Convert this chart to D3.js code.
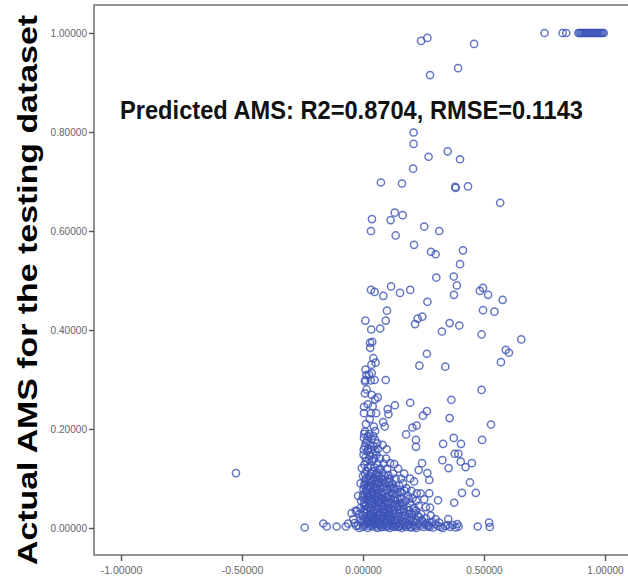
<!DOCTYPE html>
<html>
<head>
<meta charset="utf-8">
<script src="https://cdn.jsdelivr.net/npm/d3@7"></script>
<style>
  html, body { margin: 0; padding: 0; background: #ffffff; }
  #chart { width: 628px; height: 584px; }
  .tick-label { font-family: "Liberation Sans", Arial, sans-serif; font-size: 11px; fill: #666; }
  .axis-label { font-family: "Liberation Sans", Arial, sans-serif; font-weight: bold; font-size: 28px; fill: #000; }
  .fit-label { font-family: "Liberation Sans", Arial, sans-serif; font-weight: bold; font-size: 26px; fill: #111; }
</style>
</head>
<body>
<div id="chart"></div>
<script>
// [predicted, actual] pairs
const topRow = [
  [0.75, 1.0], [0.825, 1.0], [0.84, 1.0], [0.89, 1.0], [0.895, 1.0], [0.90, 1.0], [0.905, 1.0],
  [0.91, 1.0], [0.915, 1.0], [0.92, 1.0], [0.925, 1.0], [0.93, 1.0], [0.935, 1.0], [0.94, 1.0],
  [0.945, 1.0], [0.95, 1.0], [0.955, 1.0], [0.96, 1.0], [0.965, 1.0], [0.97, 1.0], [0.975, 1.0],
  [0.98, 1.0], [0.985, 1.0], [0.99, 1.0], [0.995, 1.0]
];

const upperPoints = [
  [0.24, 0.984], [0.266, 0.99], [0.459, 0.978], [0.277, 0.915], [0.393, 0.929],
  [0.209, 0.799], [0.209, 0.776], [0.271, 0.750], [0.350, 0.761], [0.401, 0.745],
  [0.207, 0.726], [0.074, 0.698], [0.161, 0.696], [0.383, 0.687], [0.381, 0.689],
  [0.434, 0.690], [0.567, 0.657], [0.131, 0.637], [0.164, 0.632], [0.114, 0.622],
  [0.037, 0.624], [0.033, 0.600], [0.253, 0.609], [0.315, 0.600], [0.135, 0.591],
  [0.211, 0.572], [0.281, 0.558], [0.300, 0.553], [0.413, 0.561], [0.401, 0.533],
  [0.303, 0.506], [0.375, 0.508], [0.388, 0.490], [0.376, 0.471]
];

const midPoints = [
  [0.033, 0.481], [0.048, 0.477], [0.084, 0.469], [0.116, 0.488], [0.153, 0.475],
  [0.195, 0.481], [0.266, 0.457], [0.483, 0.479], [0.496, 0.485], [0.517, 0.471],
  [0.577, 0.461], [0.099, 0.439], [0.010, 0.419], [0.034, 0.401], [0.071, 0.403],
  [0.094, 0.419], [0.215, 0.412], [0.226, 0.423], [0.245, 0.427], [0.326, 0.397],
  [0.358, 0.414], [0.398, 0.409], [0.496, 0.440], [0.543, 0.437], [0.490, 0.391],
  [0.654, 0.381], [0.590, 0.360], [0.603, 0.354], [0.570, 0.335], [0.029, 0.374],
  [0.038, 0.376], [0.030, 0.364], [0.043, 0.343], [0.052, 0.334], [0.264, 0.352],
  [0.233, 0.328], [0.340, 0.326], [0.014, 0.309], [0.036, 0.313], [0.010, 0.299],
  [0.032, 0.298], [0.048, 0.299], [0.094, 0.299], [0.490, 0.279], [0.008, 0.296],
  [0.365, 0.259], [0.195, 0.253], [0.132, 0.248], [0.102, 0.240], [0.061, 0.264],
  [0.036, 0.269], [0.008, 0.272], [0.529, 0.209], [0.358, 0.222], [0.264, 0.236],
  [0.248, 0.227], [0.222, 0.207], [0.204, 0.203], [0.178, 0.189], [0.105, 0.230],
  [0.083, 0.214], [0.090, 0.205], [0.008, 0.195], [0.050, 0.196], [0.004, 0.232],
  [0.033, 0.232], [0.054, 0.232], [0.004, 0.245], [0.040, 0.246], [-0.525, 0.111]
];

const lowerPoints = [
  [0.492, 0.178], [0.375, 0.182], [0.405, 0.170], [0.331, 0.170], [0.219, 0.178],
  [0.219, 0.164], [0.098, 0.159], [0.081, 0.168], [0.059, 0.171], [0.379, 0.150],
  [0.394, 0.150], [0.328, 0.137], [0.354, 0.121], [0.404, 0.134], [0.424, 0.123],
  [0.450, 0.131], [0.244, 0.131], [0.230, 0.117], [0.266, 0.111], [0.274, 0.097],
  [0.211, 0.094], [0.442, 0.092], [0.409, 0.071], [0.466, 0.071], [0.112, 0.131],
  [0.129, 0.129], [0.105, 0.107], [-0.005, 0.121], [0.153, 0.073], [0.172, 0.075],
  [0.190, 0.059], [0.222, 0.070], [0.238, 0.070], [0.274, 0.070], [0.253, 0.058],
  [0.260, 0.042], [0.277, 0.041], [0.310, 0.056], [0.377, 0.051], [0.146, 0.046],
  [0.160, 0.050], [0.012, 0.21], [0.028, 0.22], [0.045, 0.205], [0.02, 0.25],
  [0.05, 0.26], [0.015, 0.28], [0.025, 0.31], [0.01, 0.32], [0.035, 0.33]
];

const columnPoints = [
  [0.005, 0.19], [0.02, 0.185], [0.035, 0.18], [0.05, 0.178], [0.012, 0.172], [0.028, 0.168],
  [0.045, 0.165], [0.062, 0.16], [0.003, 0.158], [0.018, 0.155], [0.04, 0.15], [0.055, 0.148],
  [0.01, 0.142], [0.025, 0.138], [0.038, 0.135], [0.07, 0.14], [0.006, 0.128], [0.03, 0.125],
  [0.048, 0.122], [0.065, 0.118], [0.015, 0.115], [0.033, 0.11], [0.052, 0.108], [0.08, 0.112],
  [0.0, 0.105], [0.022, 0.1], [0.042, 0.098], [0.06, 0.095], [0.075, 0.1], [0.09, 0.105],
  [0.004, 0.182], [0.016, 0.176], [0.026, 0.19], [0.042, 0.186], [0.008, 0.165], [0.022, 0.16],
  [0.036, 0.158], [0.052, 0.155], [0.002, 0.148], [0.014, 0.135], [0.028, 0.145], [0.046, 0.14],
  [0.06, 0.13], [0.02, 0.122], [0.04, 0.115], [0.058, 0.112], [0.008, 0.11], [0.026, 0.106],
  [0.068, 0.105], [0.084, 0.098]
];

const clusterPoints = [
  [-0.01, 0.09], [0.01, 0.088], [0.03, 0.085], [0.05, 0.09], [0.07, 0.085], [0.09, 0.09],
  [0.11, 0.085], [0.13, 0.08], [0.015, 0.078], [0.04, 0.075], [0.06, 0.078], [0.08, 0.072],
  [0.1, 0.075], [0.12, 0.07], [0.14, 0.068], [0.16, 0.072], [-0.02, 0.065], [0.0, 0.062],
  [0.02, 0.065], [0.035, 0.06], [0.055, 0.063], [0.075, 0.058], [0.095, 0.062], [0.115, 0.058],
  [0.135, 0.055], [0.155, 0.06], [0.175, 0.055], [0.195, 0.05], [0.005, 0.052], [0.025, 0.05],
  [0.045, 0.048], [0.065, 0.05], [0.085, 0.045], [0.105, 0.048], [0.125, 0.045], [0.145, 0.042],
  [0.165, 0.045], [0.21, 0.04], [0.23, 0.045], [-0.03, 0.035], [-0.01, 0.04], [0.01, 0.038],
  [0.03, 0.035], [0.05, 0.038], [0.07, 0.033], [0.09, 0.036], [0.11, 0.032], [0.13, 0.035],
  [0.15, 0.03], [0.17, 0.033], [0.19, 0.028], [0.21, 0.03], [0.24, 0.028], [0.0, 0.025],
  [0.02, 0.022], [0.04, 0.026], [0.06, 0.02], [0.08, 0.024], [0.1, 0.02], [0.12, 0.022],
  [0.14, 0.018], [0.16, 0.022], [0.18, 0.018], [0.2, 0.02], [0.22, 0.015], [0.26, 0.02],
  [0.28, 0.025], [0.3, 0.018], [0.008, 0.095], [0.026, 0.092], [0.044, 0.082], [0.058, 0.07],
  [0.068, 0.065], [0.018, 0.07], [0.036, 0.072], [0.002, 0.078], [0.012, 0.058], [0.028, 0.055],
  [0.048, 0.058], [0.064, 0.04], [0.078, 0.045], [0.092, 0.05], [0.104, 0.062], [0.118, 0.04],
  [0.132, 0.028], [0.006, 0.045], [0.022, 0.042], [0.042, 0.015], [0.056, 0.03], [0.072, 0.015],
  [0.086, 0.03], [0.098, 0.012], [0.112, 0.015], [0.126, 0.012], [0.014, 0.03], [0.034, 0.018],
  [0.054, 0.012], [0.003, 0.015], [0.046, 0.035], [0.066, 0.025], [0.088, 0.02], [0.108, 0.028],
  [0.024, 0.012], [0.038, 0.045], [0.062, 0.055], [0.082, 0.06], [0.1, 0.04], [0.016, 0.062],
  [0.044, 0.065], [0.026, 0.082], [0.058, 0.098], [0.072, 0.12], [0.085, 0.13], [0.1, 0.12],
  [0.095, 0.14], [0.11, 0.1], [0.12, 0.09], [0.135, 0.1], [0.15, 0.085], [0.165, 0.09],
  [0.18, 0.08], [0.2, 0.075], [0.195, 0.1], [0.17, 0.11], [0.145, 0.12]
];

const densePoints = [
  [0.004, 0.086], [0.019, 0.083], [0.034, 0.094], [0.052, 0.08], [0.066, 0.092], [0.083, 0.082],
  [0.097, 0.078], [0.109, 0.092], [0.124, 0.082], [0.001, 0.068], [0.012, 0.074], [0.031, 0.066],
  [0.049, 0.07], [0.063, 0.062], [0.079, 0.066], [0.091, 0.07], [0.108, 0.066], [0.128, 0.062],
  [0.143, 0.058], [-0.008, 0.055], [0.009, 0.046], [0.021, 0.056], [0.039, 0.053], [0.057, 0.045],
  [0.071, 0.052], [0.089, 0.056], [0.101, 0.052], [0.117, 0.05], [0.134, 0.048], [0.152, 0.05],
  [0.168, 0.038], [0.183, 0.042], [-0.015, 0.028], [0.004, 0.034], [0.018, 0.036], [0.032, 0.028],
  [0.044, 0.022], [0.059, 0.038], [0.074, 0.028], [0.084, 0.038], [0.096, 0.03], [0.106, 0.038],
  [0.122, 0.03], [0.138, 0.025], [0.154, 0.038], [0.172, 0.025], [0.188, 0.035], [0.202, 0.028],
  [0.218, 0.035], [0.232, 0.022], [-0.012, 0.018], [0.007, 0.02], [0.017, 0.016], [0.029, 0.024],
  [0.047, 0.018], [0.064, 0.012], [0.077, 0.02], [0.091, 0.016], [0.103, 0.024], [0.117, 0.018],
  [0.133, 0.015], [0.147, 0.022], [0.163, 0.014], [0.176, 0.012], [0.193, 0.016], [0.208, 0.012],
  [0.226, 0.025], [0.248, 0.012], [0.265, 0.01], [0.285, 0.012], [0.005, 0.005], [0.015, 0.012],
  [0.025, 0.004], [0.035, 0.006], [0.045, 0.01], [0.055, 0.003], [0.065, 0.008], [0.075, 0.002],
  [0.085, 0.006], [0.095, 0.002], [0.105, 0.008], [0.115, 0.004], [0.125, 0.003], [0.135, 0.006],
  [0.145, 0.002], [0.155, 0.008], [0.165, 0.004], [0.185, 0.006], [0.195, 0.002], [0.215, 0.003],
  [0.235, 0.004], [0.255, 0.007], [0.275, 0.002], [0.3, 0.008], [0.32, 0.002], [0.34, 0.004],
  [0.36, 0.002], [0.395, 0.003], [0.39, 0.008], [-0.015, 0.0], [-0.028, 0.004], [0.012, 0.1],
  [0.03, 0.098], [0.046, 0.102], [0.064, 0.088], [0.078, 0.092], [0.101, 0.096], [0.116, 0.08],
  [0.14, 0.078], [0.125, 0.11], [0.158, 0.1], [0.185, 0.065], [0.205, 0.06], [0.22, 0.055]
];

const baselinePoints = [
  [-0.241, 0.001], [-0.164, 0.009], [-0.150, 0.003], [-0.109, 0.003], [-0.071, 0.003],
  [-0.047, 0.030], [-0.025, 0.034], [-0.040, 0.018], [-0.061, 0.009], [0.314, 0.011],
  [0.352, 0.018], [0.371, 0.006], [0.383, 0.001], [0.474, 0.003], [0.521, 0.011],
  [0.524, 0.002], [0.270, 0.003], [0.243, 0.016], [-0.035, 0.01], [-0.02, 0.005],
  [-0.005, 0.012], [0.0, 0.002], [0.01, 0.008], [0.02, 0.0], [0.03, 0.01], [0.04, 0.003],
  [0.05, 0.008], [0.06, 0.0], [0.07, 0.006], [0.08, 0.002], [0.09, 0.01], [0.1, 0.004],
  [0.11, 0.0], [0.12, 0.008], [0.13, 0.002], [0.14, 0.01], [0.15, 0.003], [0.16, 0.0],
  [0.17, 0.007], [0.18, 0.002], [0.19, 0.009], [0.2, 0.001], [0.21, 0.006], [0.22, 0.0],
  [0.23, 0.008], [0.25, 0.002], [0.27, 0.006], [0.29, 0.001], [0.31, 0.004], [0.33, 0.0],
  [0.35, 0.006]
];

const xTicks = [-1, -0.5, 0, 0.5, 1];
const yTicks = [0, 0.2, 0.4, 0.6, 0.8, 1];
const yTitle = 'Actual AMS for the testing dataset';
const fitText = 'Predicted AMS: R2=0.8704, RMSE=0.1143';

function createScatter() {
    const width = 628, height = 584;
    const plot = { left: 94, top: 5, right: 640, bottom: 555 };

    const svg = d3.select('#chart').append('svg')
        .attr('width', width)
        .attr('height', height);

    const xScale = d3.scaleLinear().domain([-1, 1]).range([121, 605]);
    const yScale = d3.scaleLinear().domain([0, 1]).range([528, 33]);

    // plot frame
    svg.append('rect')
        .attr('x', plot.left)
        .attr('y', plot.top)
        .attr('width', plot.right - plot.left)
        .attr('height', plot.bottom - plot.top)
        .attr('fill', '#ffffff')
        .attr('stroke', '#7a7a7a')
        .attr('stroke-width', 1.6);

    // Axes
    const xAxis = svg.append('g')
        .attr('transform', `translate(0, ${plot.bottom})`)
        .call(d3.axisBottom(xScale).tickValues(xTicks).tickSize(6).tickPadding(5)
            .tickFormat(d => d.toFixed(5)));
    const yAxis = svg.append('g')
        .attr('transform', `translate(${plot.left}, 0)`)
        .call(d3.axisLeft(yScale).tickValues(yTicks).tickSize(5).tickPadding(2)
            .tickFormat(d => d.toFixed(5)));

    [xAxis, yAxis].forEach(ax => {
        ax.select('.domain').remove();
        ax.selectAll('.tick line').attr('stroke', '#555').attr('stroke-width', 1.4);
        ax.selectAll('.tick text')
            .attr('class', 'tick-label')
            .attr('fill', null)
            .attr('textLength', function () { return this.textContent.length * 5.2; })
            .attr('lengthAdjust', 'spacingAndGlyphs');
    });

    // Axis Labels
    svg.append('text')
        .attr('class', 'axis-label')
        .attr('transform', 'rotate(-90)')
        .attr('x', -290)
        .attr('y', 37)
        .attr('text-anchor', 'middle')
        .attr('textLength', 550)
        .attr('lengthAdjust', 'spacingAndGlyphs')
        .text(yTitle);

    svg.append('text')
        .attr('class', 'fit-label')
        .attr('x', 120)
        .attr('y', 119)
        .attr('textLength', 463)
        .attr('lengthAdjust', 'spacingAndGlyphs')
        .text(fitText);

    const allPoints = [].concat(baselinePoints, densePoints, clusterPoints, columnPoints,
        lowerPoints, midPoints, upperPoints, topRow);

    svg.append('g')
        .selectAll('circle')
        .data(allPoints)
        .enter()
        .append('circle')
        .attr('cx', d => xScale(d[0]))
        .attr('cy', d => yScale(d[1]))
        .attr('r', 3.6)
        .attr('fill', 'none')
        .attr('stroke', '#3d54b6')
        .attr('stroke-opacity', 0.8)
        .attr('stroke-width', 1.5);
}

createScatter();
</script>
</body>
</html>
